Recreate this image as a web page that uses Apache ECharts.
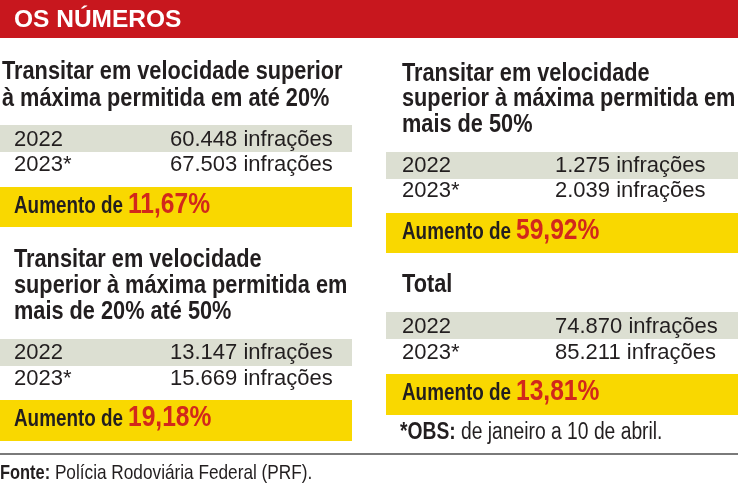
<!DOCTYPE html>
<html><head><meta charset="utf-8">
<script src="https://cdn.jsdelivr.net/npm/echarts@6/dist/echarts.min.js"></script>
<style>html,body{margin:0;padding:0;background:#fff}#c{width:738px;height:483px}</style>
</head><body><div id="c"></div>
<script>
// ---- data ----
const headerText = "OS NÚMEROS";
const sectionTitles = [
  ["Transitar em velocidade superior", "à máxima permitida em até 20%"],
  ["Transitar em velocidade", "superior à máxima permitida em", "mais de 20% até 50%"],
  ["Transitar em velocidade", "superior à máxima permitida em", "mais de 50%"],
  ["Total"]
];
const years = ["2022", "2023*"];
const infractions2022 = [60448, 13147, 1275, 74870];
const infractions2023 = [67503, 15669, 2039, 85211];
const increasePct = [11.67, 19.18, 59.92, 13.81];
const unitLabel = "infrações";
const increaseLabel = "Aumento de";
const noteBold = "*OBS:";
const noteText = " de janeiro a 10 de abril.";
const sourceBold = "Fonte:";
const sourceText = " Polícia Rodoviária Federal (PRF).";

// ---- layout ----
const layout = [
  {boxX:0,   boxW:352, textX:14,  titleX:2,   titleBase:[80,107],      greyTop:125, rowBase:[147,172], yellowTop:187, yellowH:40, incBase:214, valX:170},
  {boxX:0,   boxW:352, textX:14,  titleX:14,  titleBase:[268,294,320], greyTop:339, rowBase:[360,386], yellowTop:400, yellowH:41, incBase:427, valX:170},
  {boxX:386, boxW:352, textX:402, titleX:402, titleBase:[82,107,133],  greyTop:152, rowBase:[173,198], yellowTop:213, yellowH:40, incBase:240, valX:555},
  {boxX:386, boxW:352, textX:402, titleX:402, titleBase:[293],         greyTop:312, rowBase:[334,360], yellowTop:374, yellowH:41, incBase:401, valX:555}
];
const C = {red:'#c8171e', dark:'#221e1f', pct:'#d2281b', yellow:'#f9d800', grey:'#dcdfd2', rule:'#7a7a7a'};

const ctx = document.createElement('canvas').getContext('2d');
function hasFont(name){
  const s='abcdefghijWMli0123';
  ctx.font='bold 40px monospace'; const a=ctx.measureText(s).width;
  ctx.font='bold 40px "'+name+'", monospace'; const b=ctx.measureText(s).width;
  return Math.abs(a-b)>0.5;
}
const narrowOK = hasFont('Liberation Sans Narrow');
function fontSpec(weight,size,condensed){
  if(condensed){
    if(narrowOK) return {font:weight+' '+size+'px "Liberation Sans Narrow"', sx:1};
    return {font:weight+' '+size+'px "Liberation Sans"', sx:0.82};
  }
  return {font:weight+' '+size+'px "Liberation Sans"', sx:1};
}
function measure(text,f){ctx.font=f.font;return ctx.measureText(text).width*f.sx;}
const K=0.31;
const els=[];
function txt(text,x,base,weight,size,condensed,fill){
  const f=fontSpec(weight,size,condensed);
  els.push({type:'text',x:x,y:base-K*size,scaleX:f.sx,scaleY:1,
    style:{text:text,font:f.font,fill:fill,align:'left',verticalAlign:'middle'}});
  return measure(text,f);
}
function rect(x,y,w,h,fill){els.push({type:'rect',shape:{x:x,y:y,width:w,height:h},style:{fill:fill}});}
const fmt=n=>String(n).replace(/\B(?=(\d{3})+(?!\d))/g,'.');
const fmtPct=p=>p.toFixed(2).replace('.',',')+'%';

// header
rect(0,0,738,38,C.red);
txt(headerText,14,28,'bold',24.5,false,'#ffffff');

sectionTitles.forEach((lines,i)=>{
  const L=layout[i];
  lines.forEach((ln,j)=>txt(ln,L.titleX,L.titleBase[j],'bold',26.5,true,C.dark));
  rect(L.boxX,L.greyTop,L.boxW,27,C.grey);
  const vals=[infractions2022[i],infractions2023[i]];
  years.forEach((y,j)=>{
    txt(y,L.textX,L.rowBase[j],'normal',22,false,C.dark);
    txt(fmt(vals[j])+' '+unitLabel,L.valX,L.rowBase[j],'normal',22,false,C.dark);
  });
  rect(L.boxX,L.yellowTop,L.boxW,L.yellowH,C.yellow);
  const w=txt(increaseLabel,L.textX,L.incBase,'bold',23,true,C.dark);
  txt(fmtPct(increasePct[i]),L.textX+w+5,L.incBase,'bold',30,true,C.pct);
});

// note
let w=txt(noteBold,400,440,'bold',23.5,true,C.dark);
txt(noteText,400+w,440,'normal',23.5,true,C.dark);
// rule
rect(0,453,738,2,C.rule);
// source
w=txt(sourceBold,0,480,'bold',20,true,C.dark);
txt(sourceText,w,480,'normal',21,true,C.dark);

const chart=echarts.init(document.getElementById('c'),null,{renderer:'canvas'});
chart.setOption({animation:false,graphic:{elements:els}});
</script></body></html>
